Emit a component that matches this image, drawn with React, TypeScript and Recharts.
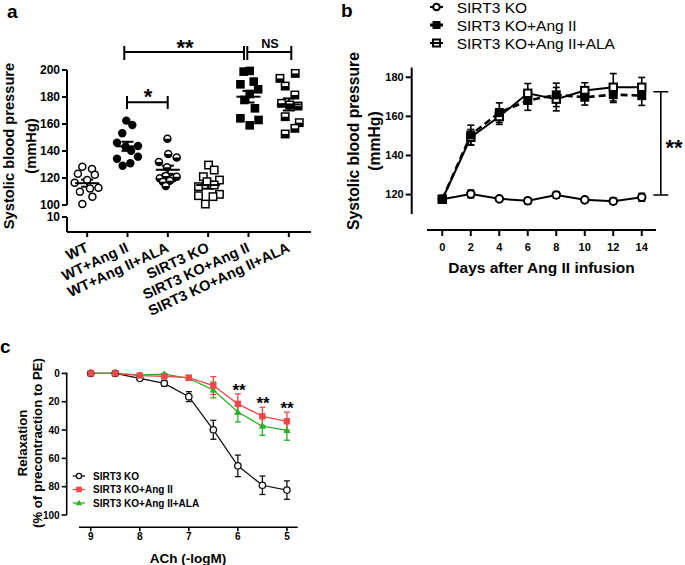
import React from 'react';
import { ScatterChart, Scatter, LineChart, Line, XAxis, YAxis, ErrorBar } from 'recharts';

const FONT = '"Liberation Sans", Arial, Helvetica, sans-serif';

// ---------- panel a: systolic BP of single animals ----------
const groupsA = ['WT', 'WT+Ang II', 'WT+Ang II+ALA', 'SIRT3 KO', 'SIRT3 KO+Ang II', 'SIRT3 KO+Ang II+ALA'];
const wtBP = [128.4, 126.7, 123.2, 122.5, 118.5, 116.5, 112.8, 112.3, 109.9, 106.2, 100.7];
const wtJit = [-0.12, 0.12, -0.23, 0.19, 0, -0.31, 0.28, 0.07, -0.18, 0.13, -0.12];
const wtAngBP = [162.5, 159.3, 153.1, 146.2, 143.2, 143.7, 140.2, 134.3, 135.8, 129.1, 130.9];
const wtAngJit = [-0.03, 0.12, -0.13, -0.26, -0.05, 0.26, 0.09, -0.26, 0.26, -0.12, 0.07];
const wtAlaBP = [149.1, 131.9, 137.8, 135.1, 127.9, 119.8, 121.5, 119.8, 121, 117.3, 118, 114.1];
const wtAlaJit = [-0.01, -0.22, 0.01, 0.22, -0.02, -0.2, -0.05, 0.13, 0.22, -0.12, 0.05, -0.05];
const koBP = [129.6, 125.9, 121, 118.5, 117.3, 114.8, 113.6, 107.9, 106.9, 106.2, 100.7];
const koJit = [0.01, 0.15, -0.12, 0.28, -0.03, 0.15, -0.24, 0.28, -0.24, 0.12, -0.07];
const koAngBP = [198.8, 199.3, 189.4, 191.4, 185.7, 182.2, 177.8, 171.6, 164.2, 163, 159];
const koAngJit = [-0.12, 0.03, -0.2, 0.13, 0.24, 0.03, -0.1, 0.16, -0.2, 0.25, 0.03];
const koAlaBP = [197.5, 193.8, 188.1, 181.5, 175.3, 174.1, 173.3, 165.4, 161, 156.8, 152.6];
const koAlaJit = [0.16, -0.22, -0.09, 0.15, -0.18, 0.02, 0.23, -0.09, 0.26, 0.15, -0.09];
const groupBP = [wtBP, wtAngBP, wtAlaBP, koBP, koAngBP, koAlaBP];
const groupJit = [wtJit, wtAngJit, wtAlaJit, koJit, koAngJit, koAlaJit];
const ticksA = [100, 120, 140, 160, 180, 200];

// ---------- panel b: time course ----------
const days = [0, 2, 4, 6, 8, 10, 12, 14];
const bKo = [117.6, 120.3, 117.8, 116.8, 119.8, 117.3, 116.6, 118.6];
const bKoErr = [1.5, 2, 1, 1.5, 1.5, 1, 1.5, 2];
const bAng = [117.6, 150.5, 161.9, 168.1, 171, 169.8, 171.1, 170.6];
const bAngErr = [1, 5, 5, 5, 6, 4, 4, 5];
const bAla = [117.6, 149.3, 159.9, 171.8, 168.8, 173.2, 174.9, 174.9];
const bAlaErr = [1, 4, 4, 5, 6, 4, 7, 5];
const ticksB = [120, 140, 160, 180];

// ---------- panel c: ACh relaxation ----------
const logM = [9, 8.5, 8, 7.5, 7, 6.5, 6, 5.5, 5];
const cKo = [0, 0, 3.5, 7, 16.4, 39.8, 65.3, 79, 82.4];
const cKoErr = [0.5, 0.5, 1, 2, 3.5, 6.7, 7.6, 6.5, 6.5];
const cAng = [0, 0, 1.5, 2, 3, 8.6, 21.5, 30.3, 33.8];
const cAngErr = [0.5, 0.5, 1, 1, 1.5, 6.3, 7, 6.4, 6.4];
const cAla = [0, 0, 1, 0.5, 3.5, 11.7, 27.3, 37.3, 40.2];
const cAlaErr = [0.5, 0.5, 0.5, 0.5, 1.5, 5.6, 7, 6.4, 7];
const ticksCy = [0, 20, 40, 60, 80, 100];
const ticksCx = [5, 6, 7, 8, 9];

const mean = (a: number[]) => a.reduce((s, v) => s + v, 0) / a.length;
const sem = (a: number[]) => {
  const m = mean(a);
  const sd = Math.sqrt(a.reduce((s, v) => s + (v - m) ** 2, 0) / (a.length - 1));
  return sd / Math.sqrt(a.length);
};

const pointsA = groupBP.map((vals, gi) => vals.map((v, i) => ({ x: gi + 1 + groupJit[gi][i], y: v })));
const meansA = groupBP.map((vals, gi) => ({ x: gi + 1, y: mean(vals), sem: sem(vals) }));
const baseA = groupsA.map((g, i) => ({ x: i + 1, y: 0 }));

const rowsB = days.map((d, i) => ({
  day: d, ko: bKo[i], koErr: bKoErr[i], ang: bAng[i], angErr: bAngErr[i], ala: bAla[i], alaErr: bAlaErr[i],
}));
const rowsC = logM.map((x, i) => ({
  x, ko: cKo[i], koErr: cKoErr[i], ang: cAng[i], angErr: cAngErr[i], ala: cAla[i], alaErr: cAlaErr[i],
}));

const RED = '#f0474a';
const GREEN = '#23b523';
const BLK = '#111';

const tickStyle = (size: number) => ({ fill: '#000', fontSize: size, fontWeight: 700, fontFamily: FONT });
const line2 = { stroke: '#000', strokeWidth: 2 };

// marker shapes for panel a
function markerA(kind: string) {
  return (p: any) => {
    const { cx, cy } = p;
    const r = 3.5;
    const s = 3.7;
    if (kind === 'oc') return <circle cx={cx} cy={cy} r={r} fill="#fff" stroke="#000" strokeWidth={1.5} />;
    if (kind === 'fc') return <circle cx={cx} cy={cy} r={r + 0.7} fill="#000" />;
    if (kind === 'hc')
      return (
        <g>
          <circle cx={cx} cy={cy} r={r} fill="#fff" stroke="#000" strokeWidth={1.5} />
          <path d={`M${cx - r} ${cy} A${r} ${r} 0 0 0 ${cx + r} ${cy} Z`} fill="#000" />
        </g>
      );
    if (kind === 'os')
      return <rect x={cx - s} y={cy - s} width={2 * s} height={2 * s} fill="#fff" stroke="#000" strokeWidth={1.5} />;
    if (kind === 'fs') return <rect x={cx - s - 0.6} y={cy - s - 0.6} width={2 * s + 1.2} height={2 * s + 1.2} fill="#000" />;
    return (
      <g>
        <rect x={cx - s} y={cy - s} width={2 * s} height={2 * s} fill="#fff" stroke="#000" strokeWidth={1.5} />
        <rect x={cx - s} y={cy} width={2 * s} height={s} fill="#000" />
      </g>
    );
  };
}
const kindsA = ['oc', 'fc', 'hc', 'os', 'fs', 'hs'];

const MeanLine = (p: any) => (
  <line x1={p.cx - 12} x2={p.cx + 12} y1={p.cy} y2={p.cy} stroke="#000" strokeWidth={2} />
);
const Nothing = () => <g />;

const RotTick = (props: any) => {
  const { x, y, payload } = props;
  const ax = x + 2;
  const ay = y + 12;
  return (
    <text x={ax} y={ay} textAnchor="end" transform={`rotate(-25 ${ax} ${ay})`} fontSize={14.5} fontWeight={700} fontFamily={FONT} fill="#000">
      {groupsA[payload.value - 1]}
    </text>
  );
};

// marker shapes for panel b
const dotB = (kind: string) => (p: any) => {
  const { cx, cy, index } = p;
  if (kind === 'circle') return <circle key={index} cx={cx} cy={cy} r={3.8} fill="#fff" stroke="#000" strokeWidth={2} />;
  if (kind === 'filled') return <rect key={index} x={cx - 4.5} y={cy - 4.5} width={9} height={9} fill="#000" />;
  return <rect key={index} x={cx - 3.7} y={cy - 3.7} width={7.4} height={7.4} fill="#fff" stroke="#000" strokeWidth={2} />;
};

// marker shapes for panel c
const dotC = (kind: string) => (p: any) => {
  const { cx, cy, index } = p;
  if (kind === 'circle') return <circle key={index} cx={cx} cy={cy} r={3.2} fill="#fff" stroke={BLK} strokeWidth={1.3} />;
  if (kind === 'square') return <rect key={index} x={cx - 3.2} y={cy - 3.2} width={6.4} height={6.4} fill={RED} />;
  return <path key={index} d={`M${cx} ${cy - 3.8} L${cx + 3.6} ${cy + 2.6} L${cx - 3.6} ${cy + 2.6} Z`} fill={GREEN} />;
};

const Stars = ({ x, y, size, text = '**' }: { x: number; y: number; size: number; text?: string }) => (
  <text x={x} y={y + size * 0.56} textAnchor="middle" fontSize={size} fontWeight={700} fontFamily={FONT} fill="#000">
    {text}
  </text>
);

export default function App() {
  return (
    <div style={{ position: 'absolute', left: 0, top: 0, width: 685, height: 565, background: '#fff', overflow: 'hidden' }}>
      {/* panel a, upper segment 100-200 */}
      <div style={{ position: 'absolute', left: 0, top: 0 }}>
        <ScatterChart width={330} height={240} margin={{ top: 70, right: 19, bottom: 35, left: 0 }}>
          <XAxis type="number" dataKey="x" domain={[0.5, 6.55]} hide />
          <YAxis type="number" dataKey="y" domain={[100, 200]} ticks={ticksA} width={67} tickSize={5} tickMargin={2}
            axisLine={line2} tickLine={line2} tick={tickStyle(12)} />
          {pointsA.map((pts, gi) => (
            <Scatter key={gi} data={pts} shape={markerA(kindsA[gi])} isAnimationActive={false} />
          ))}
          <Scatter data={meansA} shape={MeanLine} isAnimationActive={false}>
            <ErrorBar dataKey="sem" direction="y" width={6} stroke="#000" strokeWidth={2} />
          </Scatter>
        </ScatterChart>
      </div>
      {/* panel a, lower segment 0-10 with category axis */}
      <div style={{ position: 'absolute', left: 0, top: 200 }}>
        <ScatterChart width={330} height={135} margin={{ top: 17, right: 19, bottom: 0, left: 0 }}>
          <XAxis type="number" dataKey="x" domain={[0.5, 6.55]} ticks={[1, 2, 3, 4, 5, 6]} interval={0} height={103}
            tickSize={5} tickMargin={2} axisLine={line2} tickLine={line2} tick={<RotTick />} />
          <YAxis type="number" dataKey="y" domain={[0, 10]} ticks={[0, 10]} width={67} tickSize={5} tickMargin={2}
            axisLine={line2} tickLine={line2} tick={tickStyle(12)} />
          <Scatter data={baseA} shape={Nothing} isAnimationActive={false} />
        </ScatterChart>
      </div>

      {/* panel b, data + y axis */}
      <div style={{ position: 'absolute', left: 340, top: 0 }}>
        <LineChart width={345} height={230} data={rowsB} margin={{ top: 67.5, right: 29, bottom: 15.9, left: 0 }}>
          <XAxis type="number" dataKey="day" domain={[-2.15, 15]} hide />
          <YAxis type="number" domain={[110, 185]} ticks={ticksB} width={71.7} tickSize={6} tickMargin={2}
            axisLine={line2} tickLine={line2} tick={tickStyle(11)} />
          <Line dataKey="ko" stroke="#000" strokeWidth={2} dot={dotB('circle')} isAnimationActive={false}>
            <ErrorBar dataKey="koErr" width={3.5} stroke="#000" strokeWidth={1.6} />
          </Line>
          <Line dataKey="ala" stroke="#000" strokeWidth={2} dot={dotB('open')} isAnimationActive={false}>
            <ErrorBar dataKey="alaErr" width={3.5} stroke="#000" strokeWidth={1.6} />
          </Line>
          <Line dataKey="ang" stroke="#000" strokeWidth={2.6} strokeDasharray="7 4" dot={dotB('filled')} isAnimationActive={false}>
            <ErrorBar dataKey="angErr" width={3.5} stroke="#000" strokeWidth={1.6} />
          </Line>
        </LineChart>
      </div>
      {/* panel b, offset x axis */}
      <div style={{ position: 'absolute', left: 340, top: 200 }}>
        <LineChart width={345} height={80} data={rowsB} margin={{ top: 10, right: 29, bottom: 0, left: 87 }}>
          <XAxis type="number" dataKey="day" domain={[-1.07, 15]} ticks={days} interval={0} height={50} tickSize={6}
            tickMargin={7} axisLine={line2} tickLine={line2} tick={tickStyle(11)} />
          <YAxis type="number" domain={[110, 185]} hide />
          <Line dataKey="ko" stroke="none" dot={false} isAnimationActive={false} />
        </LineChart>
      </div>

      {/* panel c, data + y axis */}
      <div style={{ position: 'absolute', left: 0, top: 330 }}>
        <LineChart width={320} height={200} data={rowsC} margin={{ top: 42.7, right: 22.3, bottom: 15, left: 0 }}>
          <XAxis type="number" dataKey="x" domain={[4.78, 9.49]} reversed hide />
          <YAxis type="number" reversed domain={[0, 100]} ticks={ticksCy} width={66.7} tickSize={5} tickMargin={2}
            axisLine={{ stroke: '#000', strokeWidth: 1.6 }} tickLine={{ stroke: '#000', strokeWidth: 1.6 }} tick={tickStyle(10)} />
          <Line dataKey="ko" stroke={BLK} strokeWidth={1.3} dot={dotC('circle')} isAnimationActive={false}>
            <ErrorBar dataKey="koErr" width={3} stroke={BLK} strokeWidth={1.3} />
          </Line>
          <Line dataKey="ala" stroke={GREEN} strokeWidth={1.3} dot={dotC('tri')} isAnimationActive={false}>
            <ErrorBar dataKey="alaErr" width={3} stroke={GREEN} strokeWidth={1.3} />
          </Line>
          <Line dataKey="ang" stroke={RED} strokeWidth={1.3} dot={dotC('square')} isAnimationActive={false}>
            <ErrorBar dataKey="angErr" width={3} stroke={RED} strokeWidth={1.3} />
          </Line>
        </LineChart>
      </div>
      {/* panel c, offset x axis */}
      <div style={{ position: 'absolute', left: 0, top: 500 }}>
        <LineChart width={320} height={65} data={rowsC} margin={{ top: 5, right: 22.3, bottom: 0, left: 79 }}>
          <XAxis type="number" dataKey="x" domain={[4.78, 9.24]} reversed ticks={ticksCx} interval={0} height={37.7}
            tickSize={4} tickMargin={2} axisLine={{ stroke: '#000', strokeWidth: 1.6 }} tickLine={{ stroke: '#000', strokeWidth: 1.6 }}
            tick={tickStyle(10)} />
          <YAxis type="number" reversed domain={[0, 100]} hide />
          <Line dataKey="ko" stroke="none" dot={false} isAnimationActive={false} />
        </LineChart>
      </div>

      {/* labels, legends, significance marks */}
      <svg width={685} height={565} style={{ position: 'absolute', left: 0, top: 0, pointerEvents: 'none' }} fontFamily={FONT}>
        <text x={7} y={18} fontSize={19} fontWeight={700}>a</text>
        <text x={341} y={17} fontSize={19} fontWeight={700}>b</text>
        <text x={0} y={353} fontSize={19} fontWeight={700}>c</text>

        {/* a axis title */}
        <text transform="translate(9,146) rotate(-90)" textAnchor="middle" dominantBaseline="central" fontSize={14.7} fontWeight={700}>Systolic blood pressure</text>
        <text transform="translate(31,146) rotate(-90)" textAnchor="middle" dominantBaseline="central" fontSize={14.7} fontWeight={700}>(mmHg)</text>

        {/* a brackets */}
        <g stroke="#000" strokeWidth={2} fill="none">
          <path d="M124.3 46 V60 M124.3 52 H244 M244 46 V60 M247.3 46 V60 M247.3 52 H291.3 M291.3 46 V60" />
          <path d="M127 96 V109 M127 102.3 H167.7 M167.7 96 V109" />
        </g>
        <Stars x={185} y={43} size={22} />
        <text x={270} y={47.5} textAnchor="middle" fontSize={12.7} fontWeight={700}>NS</text>
        <Stars x={148} y={92} size={22} text="*" />

        {/* b legend */}
        <g stroke="#000" strokeWidth={2}>
          <line x1={430} x2={443} y1={7} y2={7} />
          <circle cx={436.5} cy={7} r={3.3} fill="#fff" />
          <line x1={430} x2={443} y1={25} y2={25} strokeWidth={3} />
          <rect x={432.5} y={21} width={8} height={8} fill="#000" stroke="none" />
          <line x1={430} x2={443} y1={43} y2={43} />
          <rect x={433} y={39.5} width={7} height={7} fill="none" />
        </g>
        <g fontSize={15.5}>
          <text x={456.7} y={12.5}>SIRT3 KO</text>
          <text x={456.7} y={30.5}>SIRT3 KO+Ang II</text>
          <text x={456.7} y={48.5}>SIRT3 KO+Ang II+ALA</text>
        </g>
        <text transform="translate(353,141) rotate(-90)" textAnchor="middle" dominantBaseline="central" fontSize={15.7} fontWeight={700}>Systolic blood pressure</text>
        <text transform="translate(374,141) rotate(-90)" textAnchor="middle" dominantBaseline="central" fontSize={15.7} fontWeight={700}>(mmHg)</text>
        <text x={541.5} y={272.5} textAnchor="middle" fontSize={15.5} fontWeight={700}>Days after Ang II infusion</text>
        <path d="M653.3 91.7 H668.3 M660.8 91.7 V195 M653.3 195 H668.3" stroke="#000" strokeWidth={1.6} fill="none" />
        <Stars x={674} y={143} size={22} />

        {/* c labels */}
        <text transform="translate(22,443) rotate(-90)" textAnchor="middle" dominantBaseline="central" fontSize={13.2} fontWeight={700}>Relaxation</text>
        <text transform="translate(37,443) rotate(-90)" textAnchor="middle" dominantBaseline="central" fontSize={13.2} fontWeight={700}>(% of precontraction to PE)</text>
        <text x={188} y={562.5} textAnchor="middle" fontSize={13.5} fontWeight={700}>ACh (-logM)</text>
        <Stars x={239} y={386} size={17} />
        <Stars x={263} y={399} size={17} />
        <Stars x={287} y={404.3} size={17} />

        {/* c legend */}
        <line x1={72.7} x2={85} y1={476} y2={476} stroke={BLK} strokeWidth={1.3} />
        <circle cx={79} cy={476} r={2.6} fill="#fff" stroke={BLK} strokeWidth={1.3} />
        <line x1={72.7} x2={85} y1={489.5} y2={489.5} stroke={RED} strokeWidth={1.3} />
        <rect x={76.2} y={486.7} width={5.6} height={5.6} fill={RED} />
        <line x1={72.7} x2={85} y1={503} y2={503} stroke={GREEN} strokeWidth={1.3} />
        <path d="M79 499.7 L82.2 505.3 L75.8 505.3 Z" fill={GREEN} />
        <g fontSize={10} fontWeight={700}>
          <text x={93} y={479.6}>SIRT3 KO</text>
          <text x={93} y={493.1}>SIRT3 KO+Ang II</text>
          <text x={93} y={506.6}>SIRT3 KO+Ang II+ALA</text>
        </g>
      </svg>
    </div>
  );
}
